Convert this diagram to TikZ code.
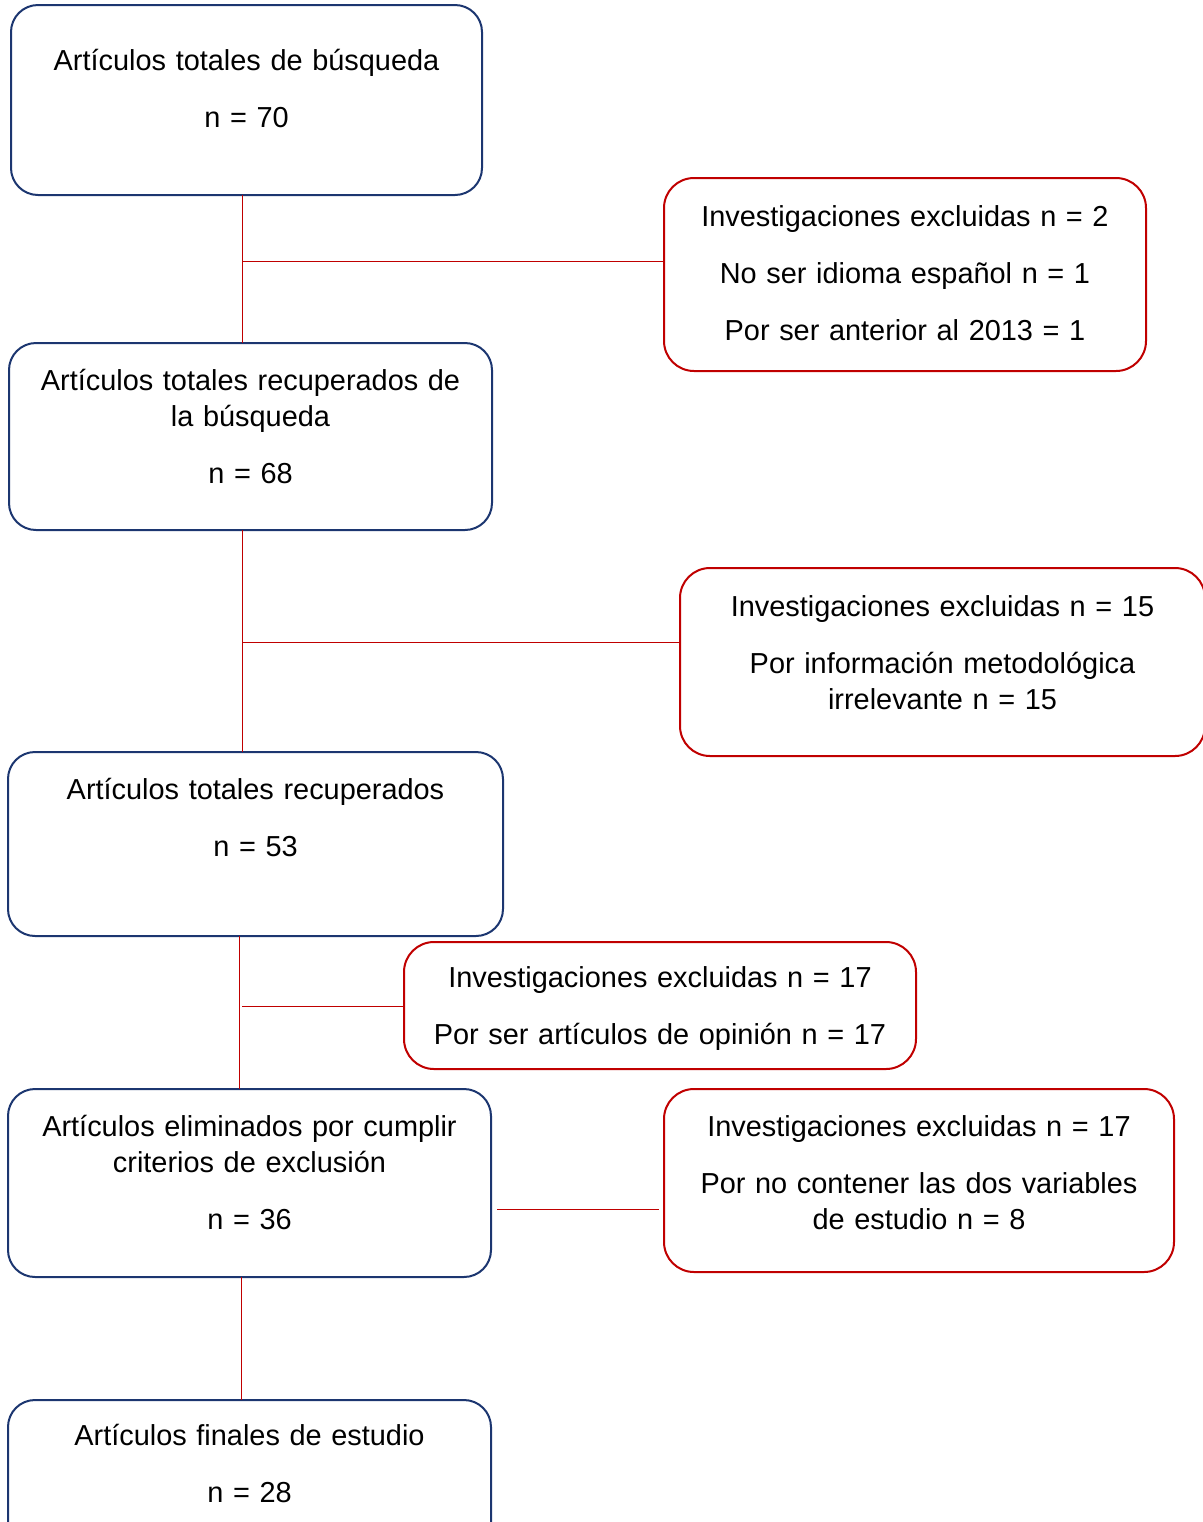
\documentclass[tikz,border=0pt]{standalone}
\usepackage{fontspec}
\setmainfont{Liberation Sans}
\usetikzlibrary{calc}
\newdimen\pxl \pxl=0.02cm
\definecolor{azul}{HTML}{1C3670}
\definecolor{rojo}{HTML}{C00000}

\begin{document}
\begin{tikzpicture}[x=0.02cm,y=-0.02cm,caja/.style ={rectangle, draw=azul, line width=2\pxl, rounded corners=27\pxl, anchor=north west, inner sep=0pt, outer sep=0pt, align=center, font=\fontsize{16.45}{20.7}\selectfont},excl/.style={caja, draw=rojo, rounded corners=30\pxl},linea/.style={draw=rojo, line width=1\pxl}]
\useasboundingbox (0,0) rectangle (1203,1522);
\draw (11,5) node[caja, text width=471\pxl, text height=65.5\pxl, text depth=124.5\pxl] (A) {Artículos totales de búsqueda\\[11.8pt] n = 70};
\draw (9,343) node[caja, text width=483\pxl, text height=47.5\pxl, text depth=139.5\pxl] (B) {Artículos totales recuperados de\\ la búsqueda\\[11.8pt] n = 68};
\draw (8,752) node[caja, text width=495\pxl, text height=47.5\pxl, text depth=136.5\pxl] (C) {Artículos totales recuperados\\[11.8pt] n = 53};
\draw (8,1089) node[caja, text width=483\pxl, text height=47.5\pxl, text depth=140.5\pxl] (D) {Artículos eliminados por cumplir\\ criterios de exclusión\\[11.8pt] n = 36};
\draw (8,1400) node[caja, text width=483\pxl, text height=45.5\pxl, text depth=144.5\pxl] (E) {Artículos finales de estudio\\[11.8pt] n = 28};
% excluidas
\draw (664,178) node[excl, text width=482\pxl, text height=48.5\pxl, text depth=144.5\pxl] (R1) {Investigaciones excluidas n = 2\\[11.8pt] No ser idioma español n = 1\\[11.8pt] Por ser anterior al 2013 = 1};
\draw (680,568) node[excl, text width=525\pxl, text height=48.5\pxl, text depth=139.5\pxl] (R2) {Investigaciones excluidas n = 15\\[11.8pt] Por información metodológica\\ irrelevante n = 15};
\draw (404,942) node[excl, text width=512\pxl, text height=45.5\pxl, text depth=81.5\pxl] (R3) {Investigaciones excluidas n = 17\\[11.8pt] Por ser artículos de opinión n = 17};
\draw (664,1089) node[excl, text width=510\pxl, text height=47.5\pxl, text depth=135.5\pxl] (R4) {Investigaciones excluidas n = 17\\[11.8pt] Por no contener las dos variables\\ de estudio n = 8};
% conectores
\coordinate (j1) at (242,261);
\coordinate (j2) at (242,642);
\coordinate (j3) at (239,1006);
\coordinate (j4) at (241,1209);
\draw[linea] (j1 |- A.south) -- (j1 |- B.north);
\draw[linea] (j1) -- (j1 -| R1.west);
\draw[linea] (j2 |- B.south) -- (j2 |- C.north);
\draw[linea] (j2) -- (j2 -| R2.west);
\draw[linea] (j3 |- C.south) -- (j3 |- D.north);
\draw[linea] ([xshift=3\pxl]j3) -- (j3 -| R3.west);
\draw[linea] ([xshift=6\pxl]j4 -| D.east) -- ([xshift=-5\pxl]j4 -| R4.west);
\draw[linea] (j4 |- D.south) -- (j4 |- E.north);
\end{tikzpicture}
\end{document}
